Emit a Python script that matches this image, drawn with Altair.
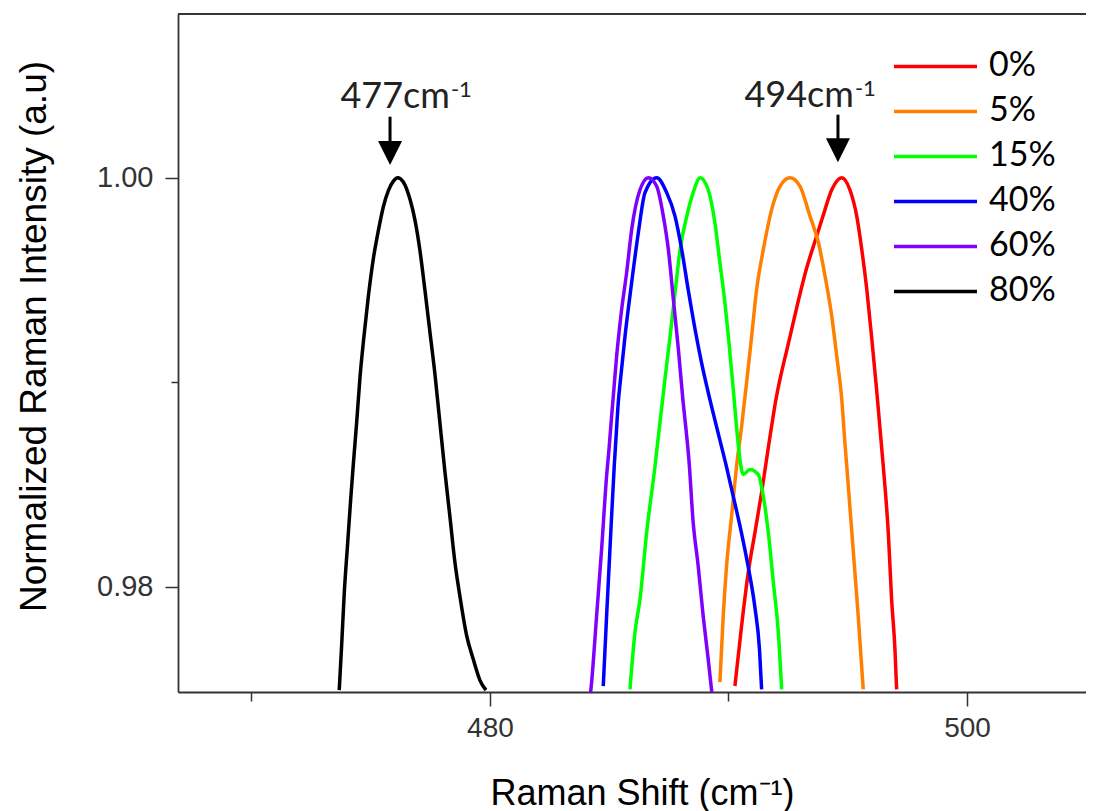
import altair as alt
import pandas as pd

series = ["0%", "5%", "15%", "40%", "60%", "80%"]
colors = ["#FF0000", "#FF8000", "#00FF00", "#0000FF", "#8000FF", "#000000"]

# Raman shift (cm-1) and normalized intensity
x_0 = [490.27, 490.55, 490.83, 491.11, 491.39, 491.66, 491.99, 492.52, 492.91, 493.26, 493.61,
       493.96, 494.33, 494.75, 495.09, 495.38, 495.59, 495.80, 496.00, 496.21, 496.49, 496.70,
       496.84, 496.98, 497.05]
y_0 = [0.97515, 0.97809, 0.98071, 0.98266, 0.98462, 0.98672, 0.98916, 0.99194, 0.99389, 0.99551,
       0.99683, 0.99811, 0.99941, 1.00000, 0.99941, 0.99811, 0.99648, 0.99453, 0.99223, 0.98965,
       0.98590, 0.98266, 0.97939, 0.97695, 0.97499]

x_5 = [489.64, 489.78, 489.92, 490.13, 490.34, 490.55, 490.76, 490.97, 491.18, 491.46, 491.81,
       492.16, 492.58, 493.00, 493.42, 493.77, 494.05, 494.33, 494.54, 494.75, 494.88, 494.96,
       495.12, 495.28, 495.44, 495.65]
y_5 = [0.97534, 0.97857, 0.98102, 0.98346, 0.98590, 0.98784, 0.98999, 0.99223, 0.99453, 0.99648,
       0.99844, 0.99958, 1.00000, 0.99958, 0.99811, 0.99683, 0.99518, 0.99323, 0.99127, 0.98916,
       0.98706, 0.98590, 0.98346, 0.98102, 0.97857, 0.97499]

x_15 = [485.87, 486.08, 486.29, 486.57, 486.92, 487.06, 487.24, 487.32, 487.55, 487.76, 487.97,
        488.25, 488.52, 488.81, 489.15, 489.43, 489.64, 489.82, 490.02, 490.22, 490.38, 490.52,
        490.62, 490.90, 491.25, 491.46, 491.67, 491.88, 492.09, 492.23]
y_15 = [0.97499, 0.97778, 0.97939, 0.98266, 0.98590, 0.98735, 0.98916, 0.98999, 0.99223, 0.99438,
        0.99648, 0.99811, 0.99927, 1.00000, 0.99941, 0.99780, 0.99585, 0.99419, 0.99194, 0.98940,
        0.98730, 0.98590, 0.98549, 0.98574, 0.98549, 0.98443, 0.98266, 0.98022, 0.97778, 0.97499]

x_40 = [484.75, 484.89, 485.03, 485.21, 485.28, 485.39, 485.46, 485.66, 485.94, 486.22, 486.50,
        486.99, 487.41, 487.76, 488.04, 488.31, 488.60, 488.87, 489.22, 489.56, 489.91, 490.23,
        490.54, 490.82, 491.10, 491.30, 491.39]
y_40 = [0.97515, 0.97857, 0.98183, 0.98590, 0.98720, 0.98916, 0.98999, 0.99223, 0.99487, 0.99731,
        0.99927, 1.00000, 0.99927, 0.99811, 0.99648, 0.99453, 0.99258, 0.99096, 0.98916, 0.98755,
        0.98590, 0.98427, 0.98266, 0.98102, 0.97906, 0.97695, 0.97499]

x_60 = [484.22, 484.26, 484.47, 484.68, 484.89, 484.99, 485.10, 485.16, 485.31, 485.52, 485.73,
        485.94, 486.29, 486.64, 486.99, 487.27, 487.48, 487.69, 487.90, 488.10, 488.22, 488.34,
        488.52, 488.73, 488.94, 489.15, 489.30]
y_60 = [0.97485, 0.97532, 0.97857, 0.98183, 0.98541, 0.98672, 0.98833, 0.98916, 0.99126, 0.99355,
        0.99536, 0.99746, 0.99941, 1.00000, 0.99958, 0.99811, 0.99648, 0.99404, 0.99160, 0.98901,
        0.98769, 0.98623, 0.98315, 0.98102, 0.97857, 0.97646, 0.97485]

x_80 = [473.68, 473.78, 473.89, 474.03, 474.16, 474.27, 474.41, 474.55, 474.72, 474.90, 475.11,
        475.32, 475.53, 475.74, 475.95, 476.13, 476.36, 476.65, 476.86, 477.07, 477.27, 477.48,
        477.69, 477.90, 478.11, 478.32, 478.53, 478.74, 479.02, 479.30, 479.58, 479.83]
y_80 = [0.97495, 0.97712, 0.97968, 0.98208, 0.98427, 0.98598, 0.98803, 0.99023, 0.99228, 0.99419,
        0.99604, 0.99741, 0.99858, 0.99937, 0.99983, 1.00000, 0.99980, 0.99893, 0.99790, 0.99639,
        0.99453, 0.99248, 0.99043, 0.98803, 0.98564, 0.98344, 0.98120, 0.97954, 0.97763, 0.97646,
        0.97543, 0.97495]

# annotations
peak_labels = ["477cm", "494cm"]
arrow_x = [475.81, 494.59]
arrow_top = [1.00298, 1.00308]
arrow_head = [1.00120, 1.00134]
label_x_end = [478.32, 495.26]
label_y = [1.00342, 1.00347]

x_ticks = [470, 480, 490, 500]
y_ticks = [0.98, 0.99, 1.00]

xs = [x_0, x_5, x_15, x_40, x_60, x_80]
ys = [y_0, y_5, y_15, y_40, y_60, y_80]
rows = []
for name, xv, yv in zip(series, xs, ys):
    for a, b in zip(xv, yv):
        rows.append({"series": name, "shift": a, "intensity": b})
df = pd.DataFrame(rows)

ann = pd.DataFrame({"label": peak_labels, "shift": arrow_x, "intensity": arrow_top, "head": arrow_head,
                    "tx": label_x_end, "ty": label_y, "sup": ["-1", "-1"]})

W, H = 908, 678
x_scale = alt.Scale(domain=[466.92, 504.99], nice=False, zero=False)
y_scale = alt.Scale(domain=[0.97486, 1.00800], nice=False, zero=False)

label_font = "Liberation Sans, Arial, sans-serif"
title_font = "Liberation Sans, Arial, sans-serif"
calibri = "Lato, Open Sans, sans-serif"

x_axis = alt.Axis(
    values=x_ticks, grid=False, title="Raman Shift (cm⁻¹)",
    labelExpr="(datum.value == 480 || datum.value == 500) ? datum.label : ''",
    tickSize={"condition": {"test": "datum.value == 480 || datum.value == 500", "value": 14}, "value": 9},
    tickColor="#333333", tickWidth=1.5, domainColor="#333333", domainWidth=1.8,
    labelFont=label_font, labelFontSize=28, labelColor="#333333", labelPadding=8,
    titleFont=title_font, titleFontSize=36, titleFontWeight="normal", titleColor="#000000",
    titleX=464, titleY=112, titleAlign="center", titleBaseline="alphabetic", labelFlush=False,
)
y_axis = alt.Axis(
    values=y_ticks, grid=False, title="Normalized Raman Intensity (a.u)", format=".2f",
    labelExpr="abs(datum.value - 0.99) < 0.001 ? '' : datum.label",
    tickSize={"condition": {"test": "abs(datum.value - 0.99) > 0.001", "value": 13}, "value": 7},
    tickColor="#333333", tickWidth=1.5, domainColor="#333333", domainWidth=1.8,
    labelFont=label_font, labelFontSize=29, labelColor="#333333", labelPadding=12,
    titleFont=title_font, titleFontSize=37, titleFontWeight="normal", titleColor="#000000",
    titleX=-133, titleY=322, titleAngle=270, titleAlign="center", titleBaseline="alphabetic",
    labelFlush=False,
)

legend = alt.Legend(
    orient="none", legendX=714, legendY=30, title=None, padding=0,
    symbolType="stroke", symbolSize=6889, symbolStrokeWidth=3.5, clipHeight=44.8, rowPadding=0,
    labelOffset=10, labelFont="Lato", labelFontSize=34, labelColor="#000000", labelLimit=200,
)

lines = alt.Chart(df).mark_line(strokeWidth=3.5, clip=True, interpolate="monotone").encode(
    x=alt.X("shift:Q", scale=x_scale, axis=x_axis),
    y=alt.Y("intensity:Q", scale=y_scale, axis=y_axis),
    color=alt.Color("series:N", scale=alt.Scale(domain=series, range=colors), legend=legend),
)

top_border = alt.Chart(pd.DataFrame({"a": [0]})).mark_rule(color="#333333", strokeWidth=1.8).encode(
    x=alt.value(0), x2=alt.value(W), y=alt.value(0)
)

shafts = alt.Chart(ann).mark_rule(color="black", strokeWidth=3).encode(
    x=alt.X("shift:Q", scale=x_scale, axis=x_axis),
    y=alt.Y("intensity:Q", scale=y_scale, axis=y_axis),
    y2="head:Q",
)
heads = alt.Chart(ann).mark_point(shape="M-1,-1L1,-1L0,1Z", filled=True, size=576, color="black", opacity=1).encode(
    x=alt.X("shift:Q", scale=x_scale, axis=x_axis),
    y=alt.Y("head:Q", scale=y_scale, axis=y_axis),
)
peak_text = alt.Chart(ann).mark_text(align="right", baseline="alphabetic", font=calibri, fontSize=36, color="#222222").encode(
    x=alt.X("tx:Q", scale=x_scale, axis=x_axis),
    y=alt.Y("ty:Q", scale=y_scale, axis=y_axis),
    text="label:N",
)
sup_text = alt.Chart(ann).mark_text(align="left", baseline="alphabetic", font=calibri, fontSize=22, dy=-11, dx=1, color="#222222").encode(
    x=alt.X("tx:Q", scale=x_scale, axis=x_axis),
    y=alt.Y("ty:Q", scale=y_scale, axis=y_axis),
    text="sup:N",
)

chart = alt.layer(
    lines, top_border, shafts, heads, peak_text, sup_text
).properties(
    width=W, height=H,
    autosize=alt.AutoSizeParams(type="none"),
    padding={"left": 170, "top": 6, "right": 0, "bottom": 120},
).configure_view(stroke=None)

chart.save("out.html", embed_options={"renderer": "svg", "actions": False})
